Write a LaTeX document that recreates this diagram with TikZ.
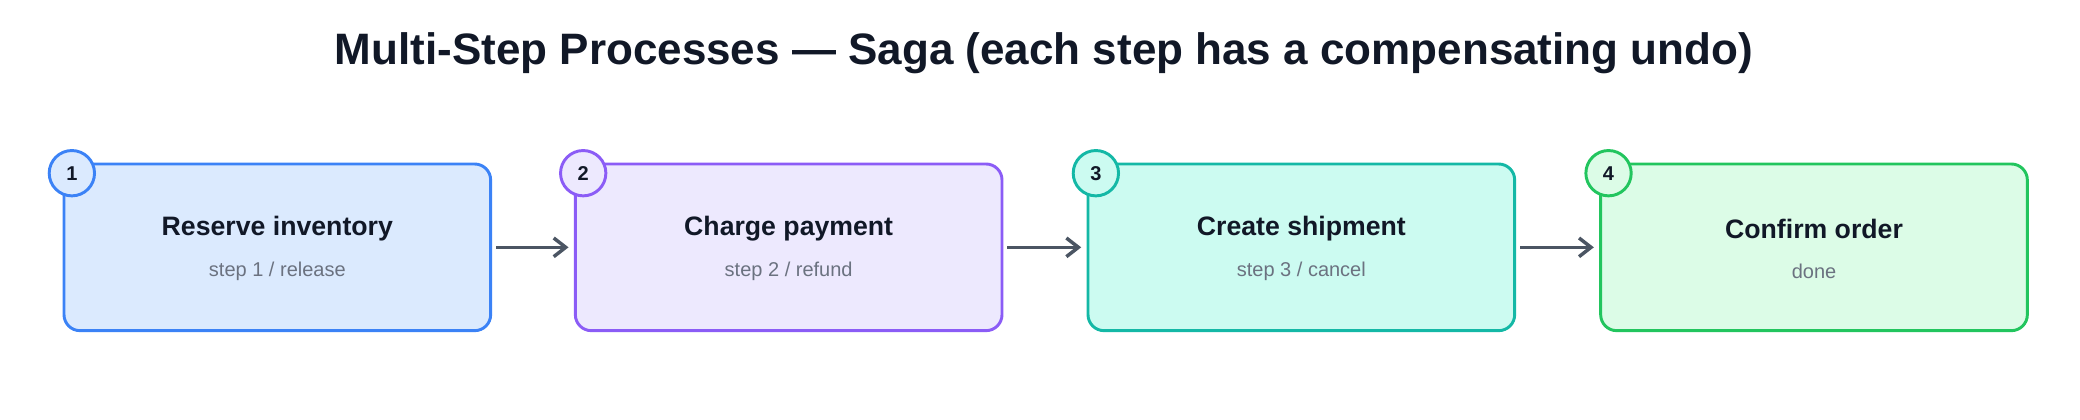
\documentclass[tikz,border=0pt]{standalone}
\usepackage{fontspec}
\setmainfont{Liberation Sans}
\usetikzlibrary{positioning,arrows.meta}
\definecolor{ink}{HTML}{111827}
\definecolor{subgray}{HTML}{6B7280}
\definecolor{arrowgray}{HTML}{4B5563}
\definecolor{blueB}{HTML}{3B82F6}\definecolor{blueF}{HTML}{DBEAFE}
\definecolor{purpB}{HTML}{8B5CF6}\definecolor{purpF}{HTML}{EDE9FE}
\definecolor{tealB}{HTML}{14B8A6}\definecolor{tealF}{HTML}{CCFBF1}
\definecolor{grnB}{HTML}{22C55E}\definecolor{grnF}{HTML}{DCFCE7}
\tikzset{
  step/.style={draw=#1B,fill=#1F,line width=2.2pt,rounded corners=12pt,
    minimum width=320pt,minimum height=125pt},
  badge/.style={circle,draw=#1B,fill=#1F,line width=2.2pt,minimum size=34pt,
    inner sep=0pt,font=\fontsize{15}{18}\selectfont\bfseries,text=ink},
  flow/.style={-{Straight Barb[length=9pt,width=14pt]},draw=arrowgray,line width=2.6pt},
  lbl/.style={font=\fontsize{20}{24}\selectfont\bfseries,text=ink},
  sub/.style={font=\fontsize{15}{18}\selectfont,text=subgray}
}
\begin{document}
\begin{tikzpicture}[x=1pt,y=-1pt]
	\useasboundingbox (0,0) rectangle (1560,315);
	%% Title
	\node (title) [font=\fontsize{33}{38}\selectfont\bfseries,text=ink] at (783,40)
	{Multi-Step Processes — Saga (each step has a compensating undo)};
	
	%% Steps
	\node (s1) [step=blue] at (208,185.5) {};
	\node (s2) [step=purp] at (591.5,185.5) {};
	\node (s3) [step=teal] at (976,185.5) {};
	\node (s4) [step=grn] at (1360.5,185.5) {};
	
	\foreach \s/\c/\n/\t/\u in {s1/blue/1/Reserve inventory/{step 1 / release},
	                            s2/purp/2/Charge payment/{step 2 / refund},
	                            s3/teal/3/Create shipment/{step 3 / cancel},
	                            s4/grn/4/Confirm order/done}{
		\node (\s t) [lbl] at ([yshift=14pt]\s.center) {\t};
		\node (\s u) [sub] at ([yshift=-18pt]\s.center) {\u};
		\node (\s b) [badge=\c] at ([xshift=7pt,yshift=-8pt]\s.north west) {\n};
	}
	
	%% Arrows
	\draw[flow] ([xshift=3pt]s1.east) -- ([xshift=-4pt]s2.west);
	\draw[flow] ([xshift=3pt]s2.east) -- ([xshift=-4pt]s3.west);
	\draw[flow] ([xshift=3pt]s3.east) -- ([xshift=-4pt]s4.west);
\end{tikzpicture}
\end{document}
